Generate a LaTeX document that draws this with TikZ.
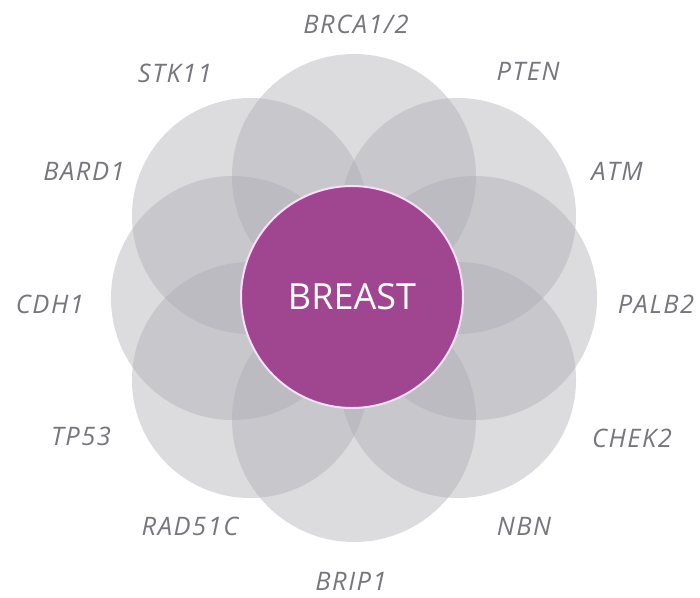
\documentclass[tikz,border=0pt]{standalone}
\usepackage{fontspec}
\setmainfont{Open Sans}
\newfontfamily\genefont[LetterSpace=6]{Open Sans}
\definecolor{petalgray}{RGB}{172,172,180}
\definecolor{breastpurple}{RGB}{160,70,145}
\definecolor{pinkedge}{RGB}{248,222,248}
\definecolor{labelgray}{RGB}{118,118,124}
\begin{document}
\begin{tikzpicture}[x=1pt,y=-1pt,
  petal/.style={circle, inner sep=0pt, fill=petalgray, fill opacity=0.42},
  axial/.style={petal, minimum size=244pt},
  diag/.style={petal, minimum size=236pt},
  core/.style={circle, minimum size=222pt, inner sep=0pt, fill=breastpurple, draw=pinkedge, line width=2pt, text=white, font=\fontsize{36}{40}\selectfont},
  gene/.style={text=labelgray, anchor=base, inner sep=0pt, font=\genefont\itshape\fontsize{25.5}{28}\selectfont}]
\useasboundingbox (0,0) rectangle (700,597);
\fill[white] (0,0) rectangle (700,597);
% eight overlapping petals
\node[axial] (p1) at (354,176) {};
\node[diag]  (p2) at (458,216) {};
\node[axial] (p3) at (475,298) {};
\node[diag]  (p4) at (458,380) {};
\node[axial] (p5) at (354,420) {};
\node[diag]  (p6) at (250,380) {};
\node[axial] (p7) at (233,298) {};
\node[diag]  (p8) at (250,216) {};
% centre
\node[core] (breast) at (352,297) {BREAST};
% gene labels
\node[gene] (g1) at (356,33) {BRCA1/2};
\node[gene] (g2) at (528,80) {PTEN};
\node[gene] (g3) at (617,180) {ATM};
\node[gene] (g4) at (656,313) {PALB2};
\node[gene] (g5) at (632,447) {CHEK2};
\node[gene] (g6) at (524,535) {NBN};
\node[gene] (g7) at (351,590) {BRIP1};
\node[gene] (g8) at (190,535) {RAD51C};
\node[gene] (g9) at (81,445) {TP53};
\node[gene] (g10) at (50,313) {CDH1};
\node[gene] (g11) at (84,180) {BARD1};
\node[gene] (g12) at (175,82) {STK11};
\end{tikzpicture}
\end{document}
